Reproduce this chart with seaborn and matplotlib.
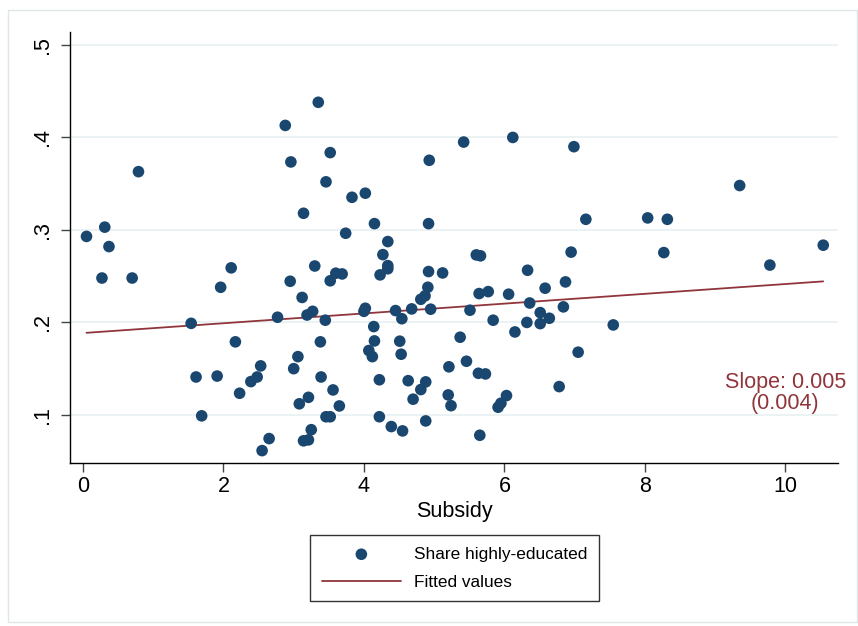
import matplotlib
matplotlib.use("Agg")
import matplotlib.pyplot as plt
import seaborn as sns
import numpy as np
import pandas as pd
from matplotlib.patches import Rectangle

# Subsidy and share of highly-educated residents
subsidy = [
    3.35, 2.88, 2.96, 0.79, 3.14, 0.31, 0.05, 0.37, 3.30, 0.27,
    0.70, 2.11, 1.96, 2.95, 3.12, 3.27, 3.19, 2.77, 1.54, 2.17,
    3.38, 3.06, 3.00, 1.61, 1.91, 2.53, 2.48, 2.39, 2.23, 3.21,
    3.08, 1.69, 3.25, 2.65, 3.14, 3.21, 2.55, 5.42, 3.52, 4.93,
    3.46, 4.02, 3.83, 4.15, 4.92, 3.74, 4.34, 4.27, 4.34, 4.34,
    4.23, 3.60, 3.69, 3.52, 4.92, 5.12, 4.91, 4.87, 4.81, 3.45,
    4.02, 4.00, 4.45, 4.54, 4.68, 4.95, 4.14, 4.15, 4.51, 5.37,
    4.07, 4.12, 4.53, 5.21, 5.46, 3.39, 3.56, 3.65, 3.46, 3.52,
    4.22, 4.63, 4.88, 4.81, 4.70, 5.20, 5.24, 4.22, 4.39, 4.55,
    4.88, 6.12, 6.99, 7.16, 5.60, 5.66, 6.95, 6.33, 6.87, 6.58,
    5.64, 5.77, 6.06, 6.36, 6.84, 5.51, 6.51, 6.64, 6.32, 6.51,
    5.84, 7.55, 6.15, 7.05, 5.63, 5.73, 6.78, 6.03, 5.95, 5.91,
    5.65, 9.35, 8.04, 8.32, 8.27, 9.78, 10.54,
]
share_high_edu = [
    0.438, 0.413, 0.3735, 0.363, 0.318, 0.303, 0.293, 0.282, 0.261, 0.248,
    0.248, 0.259, 0.238, 0.2445, 0.227, 0.212, 0.208, 0.2056, 0.199, 0.179,
    0.179, 0.163, 0.150, 0.141, 0.142, 0.153, 0.141, 0.136, 0.1234, 0.119,
    0.112, 0.099, 0.084, 0.0744, 0.072, 0.073, 0.0614, 0.395, 0.3836, 0.3753,
    0.352, 0.3397, 0.3353, 0.3068, 0.3068, 0.2964, 0.2874, 0.2733, 0.2614, 0.258,
    0.2514, 0.2532, 0.2524, 0.245, 0.255, 0.2535, 0.238, 0.2287, 0.225, 0.2024,
    0.2153, 0.212, 0.2128, 0.204, 0.2146, 0.2143, 0.1955, 0.180, 0.1797, 0.184,
    0.1696, 0.163, 0.1656, 0.152, 0.158, 0.141, 0.127, 0.1097, 0.098, 0.098,
    0.138, 0.137, 0.1357, 0.1274, 0.117, 0.1216, 0.110, 0.098, 0.0874, 0.0827,
    0.0935, 0.400, 0.390, 0.3115, 0.273, 0.272, 0.276, 0.2564, 0.2438, 0.237,
    0.2312, 0.2333, 0.2305, 0.221, 0.2168, 0.2132, 0.2106, 0.2045, 0.200, 0.1987,
    0.2024, 0.1973, 0.1897, 0.1678, 0.145, 0.1443, 0.1306, 0.1209, 0.1126, 0.1083,
    0.078, 0.348, 0.313, 0.3115, 0.2755, 0.262, 0.2835,
]

# Linear fit (coefficient and standard error)
fit_intercept = 0.1885
fit_slope = 0.0053
slope_se = 0.004

y_ticks = [0.1, 0.2, 0.3, 0.4, 0.5]
y_tick_labels = [".1", ".2", ".3", ".4", ".5"]
x_ticks = [0, 2, 4, 6, 8, 10]

NAVY = "#1a476f"
MAROON = "#90353b"
GRID = "#eaf2f3"

sns.set_theme(style="white")
plt.rcParams["font.family"] = ["Liberation Sans", "DejaVu Sans"]
plt.rcParams.update({"text.color": "black", "axes.labelcolor": "black",
                     "xtick.color": "black", "ytick.color": "black"})

df = pd.DataFrame({"subsidy": subsidy, "share": share_high_edu})
x_fit = np.array([min(subsidy), max(subsidy)])
fit_df = pd.DataFrame({"subsidy": x_fit, "fitted": fit_intercept + fit_slope * x_fit})

fig = plt.figure(figsize=(8.58, 6.26), dpi=100)
ax = fig.add_axes([70 / 858, 1 - 463 / 626, 768 / 858, 431 / 626])

for yt in y_ticks:
    ax.axhline(yt, color=GRID, lw=1.4, zorder=0)

sns.scatterplot(data=df, x="subsidy", y="share", ax=ax, color=NAVY, s=70,
                edgecolor="none", label="Share highly-educated", zorder=3)
sns.lineplot(data=fit_df, x="subsidy", y="fitted", ax=ax, color=MAROON, lw=1.3,
             label="Fitted values", zorder=2)

ax.set_xlim(-0.185, 10.75)
ax.set_ylim(0.048, 0.514)
ax.set_xticks(x_ticks)
ax.set_xticklabels([str(t) for t in x_ticks])
ax.set_yticks(y_ticks)
ax.set_yticklabels(y_tick_labels, rotation=90, va="center")
ax.tick_params(axis="both", direction="out", length=6.5, width=1,
               labelsize=15.5, bottom=True, left=True)
ax.tick_params(axis="both", color="#444444")
ax.tick_params(axis="x", pad=3)
ax.tick_params(axis="y", pad=5.5)
ax.set_xlabel("Subsidy", fontsize=15.5, labelpad=3)
ax.set_ylabel("")

for side in ["top", "right"]:
    ax.spines[side].set_visible(False)
for side in ["left", "bottom"]:
    ax.spines[side].set_color("black")
    ax.spines[side].set_linewidth(1.0)

ax.text(10.0, 0.1235, f"Slope: {fit_slope:.3f}\n({slope_se:.3f})", color=MAROON,
        fontsize=15.5, ha="center", va="center", multialignment="center",
        linespacing=1.0, clip_on=False)

handles, labels = ax.get_legend_handles_labels()
ax.get_legend().remove()
leg = fig.legend(handles, labels, loc="upper center",
                 bbox_to_anchor=(454.5 / 858, 1 - 535 / 626),
                 frameon=True, fancybox=False, fontsize=12.4, handlelength=4.6,
                 handletextpad=0.75, borderpad=0.68, labelspacing=0.75,
                 borderaxespad=0, markerscale=1.0)
leg.get_frame().set_edgecolor("black")
leg.get_frame().set_linewidth(1.0)

fig.patches.append(Rectangle((8 / 858, 1 - 622 / 626), 849 / 858, 612 / 626,
                             transform=fig.transFigure, fill=False,
                             edgecolor="#dde6e8", lw=1.0))

fig.savefig("out.png", dpi=100)
